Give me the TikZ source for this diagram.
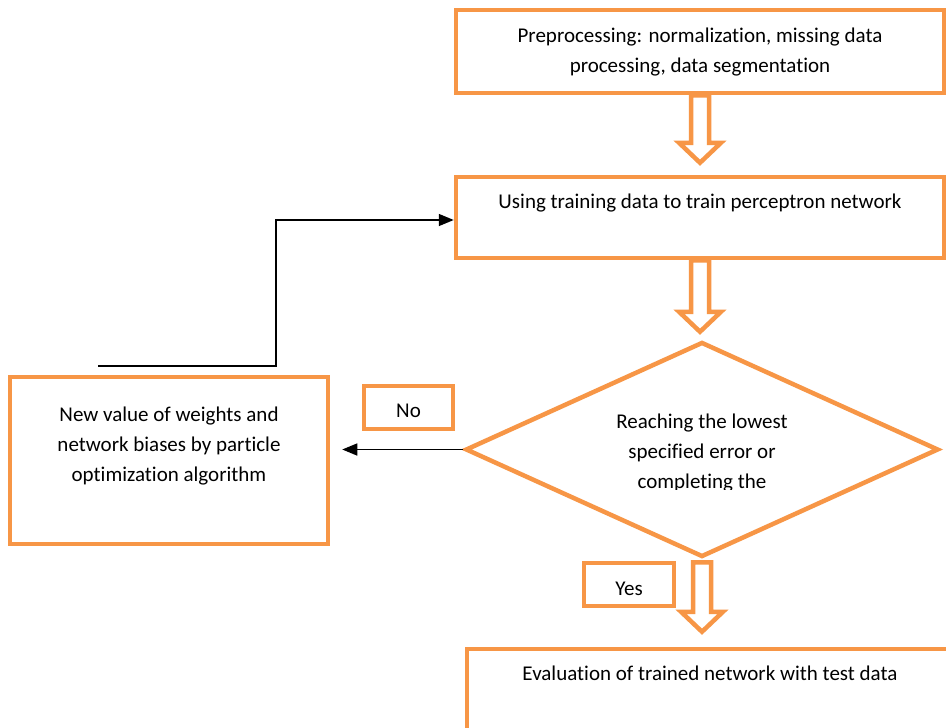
\documentclass[tikz,border=0pt]{standalone}
\usepackage{fontspec}
\setmainfont{Carlito}[Ligatures=NoCommon]
\usetikzlibrary{shapes.geometric,arrows.meta,calc}
\definecolor{orng}{HTML}{F79646}
\newcommand{\dgfont}{\fontsize{21}{30}\selectfont}
\newcommand{\blockarrow}[2]{%
  \draw[barrow] let \p1=(#1), \p2=(#2) in
    (\x1-9pt,\y1) -- (\x1-9pt,\y2+20pt) -- (\x1-21pt,\y2+20pt) -- (\x1,\y2)
    -- (\x1+21pt,\y2+20pt) -- (\x1+9pt,\y2+20pt) -- (\x1+9pt,\y1) -- cycle;}
\begin{document}
\begin{tikzpicture}[x=1pt,y=-1pt,
  box/.style={draw=orng, line width=4.5pt, rectangle, inner sep=0pt, align=center, font=\dgfont, fill=white},
  dia/.style={diamond, draw=orng, line width=4.5pt, fill=white, inner sep=0pt},
  txt/.style={align=center, font=\dgfont, inner sep=0pt},
  barrow/.style={draw=orng, line width=4.5pt, fill=white, line join=miter},
  conn/.style={draw=black, line width=1.5pt, -{Triangle[length=15pt,width=12pt]}}]
\useasboundingbox (0,0) rectangle (946,728);
\fill[white] (0,0) rectangle (946,728);

\node[box, minimum width=488, minimum height=83] (pre) at (700,51.5)
  {\strut Preprocessing: normalization, missing data\\\strut processing, data segmentation};
\node[box, minimum width=488, minimum height=81] (train) at (700,217.5)
  {\strut Using training data to train perceptron network\\\strut};
\node[dia, minimum width=473, minimum height=215] (dec) at (702,449.5) {};
\begin{scope}
  \clip (465,342) rectangle (938,489);
  \node[txt] (dectext) at (702,452.5)
    {\strut Reaching the lowest\\\strut specified error or\\\strut completing the};
\end{scope}
\node[box, minimum width=318, minimum height=167] (upd) at (169,460.5)
  {\strut New value of weights and\\\strut network biases by particle\\\strut optimization algorithm\\\strut};
\node[box, minimum width=89, minimum height=43] (no) at (408.5,407.5) {\raisebox{-3.5pt}[\height][\depth]{No}};
\node[box, minimum width=90, minimum height=43] (yes) at (629,584.5) {\raisebox{-4pt}[\height][\depth]{Yes}};
\node[box, minimum width=486, minimum height=81] (eval) at (710,689.5)
  {\strut Evaluation of trained network with test data\\\strut};

\blockarrow{pre.south}{[yshift=12pt]train.north}
\blockarrow{train.south}{[yshift=8pt]dec.north}
\blockarrow{[yshift=-3pt]dec.south}{[yshift=15pt]eval.north}

\coordinate (fb) at (98,366);
\draw[conn] (fb) -- (276,366) |- ([yshift=-2.5pt]train.west);
\draw[conn] (dec.west) -- ([xshift=12pt]upd.east |- dec.west);
\end{tikzpicture}
\end{document}
